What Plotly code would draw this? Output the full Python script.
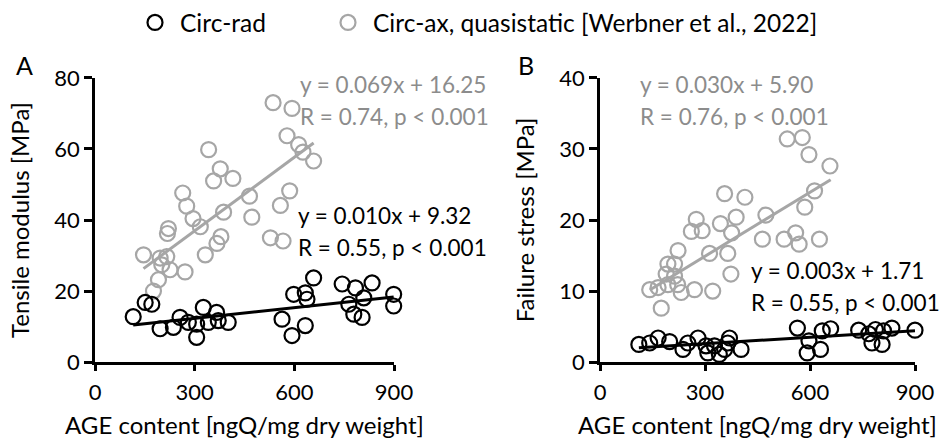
import numpy as np
import plotly.graph_objects as go

# ---------------- data ----------------
# Panel A: Tensile modulus [MPa] vs AGE content
a_rad_x = [115, 151, 171, 196, 236, 256, 281, 306, 326, 306, 341, 366, 371, 401,
           563, 593, 633, 598, 633, 638, 658, 744, 784, 834, 809, 764, 779, 804, 899, 899]
a_rad_y = [12.8, 16.8, 16.3, 9.4, 9.8, 12.6, 11.2, 10.7, 15.4, 7.0, 11.2, 14.0, 11.7, 11.2,
           12.1, 7.5, 10.3, 19.1, 19.5, 17.7, 23.7, 22.0, 20.9, 22.3, 18.1, 16.3, 13.5, 12.6, 19.1, 15.8]
a_ax_x = [536, 593, 578, 613, 626, 658, 342, 377, 357, 415, 264, 276, 295, 317, 387, 465, 472,
          558, 586, 528, 566, 221, 218, 379, 367, 332, 146, 196, 216, 201, 226, 271, 191, 176]
a_ax_y = [73.0, 71.4, 63.7, 61.2, 59.1, 56.6, 59.8, 54.4, 51.0, 51.7, 47.6, 43.9, 40.4, 38.1,
          42.2, 46.7, 40.8, 44.1, 48.2, 35.0, 34.1, 37.6, 36.2, 35.3, 33.4, 30.2, 30.2, 29.3,
          29.7, 27.4, 26.0, 25.4, 23.2, 20.0]

# Panel B: Failure stress [MPa] vs AGE content
b_rad_x = [111, 142, 166, 199, 237, 251, 280, 303, 308, 327, 341, 356, 365, 370, 403,
           564, 597, 592, 630, 635, 659, 739, 768, 787, 810, 834, 777, 806, 900]
b_rad_y = [2.5, 2.7, 3.4, 2.9, 1.8, 2.7, 3.4, 2.3, 1.3, 2.3, 1.1, 1.8, 2.7, 3.4, 1.8,
           4.8, 3.0, 1.3, 1.8, 4.4, 4.7, 4.5, 4.0, 4.6, 4.4, 4.8, 2.7, 2.5, 4.5]
b_ax_x = [535, 578, 597, 657, 613, 585, 356, 414, 275, 261, 292, 344, 389, 376, 474, 464,
          526, 559, 569, 627, 223, 313, 365, 194, 213, 189, 213, 194, 222, 142, 166, 232,
          270, 322, 374, 175]
b_ax_y = [31.4, 31.6, 29.2, 27.6, 24.1, 21.8, 23.7, 23.2, 20.1, 18.4, 18.5, 19.5, 20.4, 18.2,
          20.7, 17.3, 17.3, 18.2, 16.6, 17.3, 15.7, 15.3, 15.3, 13.8, 13.8, 12.4, 12.1, 10.9,
          10.9, 10.2, 10.5, 9.8, 10.2, 10.0, 12.4, 7.6]

# Regression lines: [slope, intercept, x_start, x_end]
a_rad_fit = [0.010, 9.32, 115, 899]
a_ax_fit = [0.069, 16.25, 146, 658]
b_rad_fit = [0.003, 1.71, 111, 900]
b_ax_fit = [0.030, 5.90, 142, 659]

a_rad_text = ["y = 0.010x + 9.32", "R = 0.55, p < 0.001"]
a_ax_text = ["y = 0.069x + 16.25", "R = 0.74, p < 0.001"]
b_rad_text = ["y = 0.003x + 1.71", "R = 0.55, p < 0.001"]
b_ax_text = ["y = 0.030x + 5.90", "R = 0.76, p < 0.001"]

series_names = ["Circ-rad", "Circ-ax, quasistatic [Werbner et al., 2022]"]
x_ticks = [0, 300, 600, 900]

# ---------------- style ----------------
W, H = 947, 441
FONT = "Lato"
BLACK = "#000000"
GRAY = "#a6a6a6"
GRAY_TXT = "#8c8c8c"

def px_x(p):
    return p / W

def px_y(p):
    return 1 - p / H

fig = go.Figure()

def add_scatter(x, y, color, name, xa, ya, legend, showlegend):
    fig.add_trace(go.Scatter(
        x=x, y=y, mode="markers", name=name, xaxis=xa, yaxis=ya,
        legend=legend, showlegend=showlegend, cliponaxis=False,
        marker=dict(symbol="circle-open", size=15, color=color,
                    line=dict(width=2.2, color=color))))

def add_fit(fit, color, xa, ya):
    s, b, x0, x1 = fit
    xs = np.array([x0, x1], dtype=float)
    fig.add_trace(go.Scatter(
        x=xs, y=s * xs + b, mode="lines", xaxis=xa, yaxis=ya, showlegend=False,
        hoverinfo="skip", line=dict(color=color, width=3)))

# Panel A
add_scatter(a_ax_x, a_ax_y, GRAY, series_names[1], "x", "y", "legend2", True)
add_fit(a_ax_fit, GRAY, "x", "y")
add_scatter(a_rad_x, a_rad_y, BLACK, series_names[0], "x", "y", "legend", True)
add_fit(a_rad_fit, BLACK, "x", "y")
# Panel B
add_scatter(b_ax_x, b_ax_y, GRAY, series_names[1], "x2", "y2", "legend2", False)
add_fit(b_ax_fit, GRAY, "x2", "y2")
add_scatter(b_rad_x, b_rad_y, BLACK, series_names[0], "x2", "y2", "legend", False)
add_fit(b_rad_fit, BLACK, "x2", "y2")

tick_font = dict(family=FONT, size=22, color=BLACK)
title_font = dict(family=FONT, size=24, color=BLACK)

def xaxis_cfg(domain, anchor):
    return dict(domain=domain, anchor=anchor, range=[0, 900], tickvals=x_ticks,
                showline=True, linecolor=BLACK, linewidth=2.5, ticks="outside",
                ticklen=6, tickwidth=2.5, tickcolor=BLACK, showgrid=False, zeroline=False,
                tickfont=tick_font, automargin=False, ticklabelstandoff=3,
                title=dict(text="AGE content [ngQ/mg dry weight]", font=title_font, standoff=13))

def yaxis_cfg(domain, anchor, rng, dtick, title):
    return dict(domain=domain, anchor=anchor, range=rng, dtick=dtick,
                showline=True, linecolor=BLACK, linewidth=2.5, ticks="outside",
                ticklen=8, tickwidth=2.5, tickcolor=BLACK, showgrid=False, zeroline=False,
                tickfont=tick_font, automargin=False,
                title=dict(text=title, font=title_font, standoff=18))

ydom = [px_y(362), px_y(77)]
leg_font = dict(family=FONT, size=24.5, color=BLACK)
fig.update_layout(
    width=W, height=H, margin=dict(l=0, r=0, t=0, b=0),
    paper_bgcolor="white", plot_bgcolor="white",
    font=dict(family=FONT, color=BLACK),
    xaxis=xaxis_cfg([px_x(95), px_x(394)], "y"),
    yaxis=yaxis_cfg(ydom, "x", [0, 80], 20, "Tensile modulus [MPa]"),
    xaxis2=xaxis_cfg([px_x(600), px_x(915)], "y2"),
    yaxis2=yaxis_cfg(ydom, "x2", [0, 40], 10, "Failure stress [MPa]"),
    legend=dict(x=px_x(130), y=px_y(22), xanchor="left", yanchor="middle",
                orientation="h", font=leg_font, itemwidth=40,
                bgcolor="rgba(0,0,0,0)"),
    legend2=dict(x=px_x(323), y=px_y(22), xanchor="left", yanchor="middle",
                 orientation="h", font=leg_font, itemwidth=40,
                 bgcolor="rgba(0,0,0,0)"),
)

ann = []
def add_text(lines, x, y0, y1, color):
    for txt, yy in zip(lines, [y0, y1]):
        ann.append(dict(text=txt, x=px_x(x), y=px_y(yy), xref="paper", yref="paper",
                        xanchor="left", yanchor="middle", showarrow=False,
                        font=dict(family=FONT, size=22.5, color=color)))

add_text(a_ax_text, 298, 84, 116, GRAY_TXT)
add_text(a_rad_text, 296, 215, 247, BLACK)
add_text(b_ax_text, 638, 84, 116, GRAY_TXT)
add_text(b_rad_text, 749, 270, 302, BLACK)
for lab, x in [("A", 24), ("B", 526)]:
    ann.append(dict(text=lab, x=px_x(x), y=px_y(64), xref="paper", yref="paper",
                    xanchor="center", yanchor="middle", showarrow=False,
                    font=dict(family=FONT, size=25, color=BLACK)))
fig.update_layout(annotations=ann)

fig.write_html("out.html")
